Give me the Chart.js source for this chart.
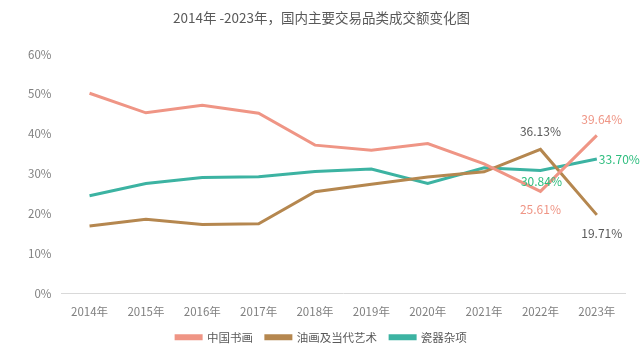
<!DOCTYPE html>
<html><head><meta charset="utf-8">
<script src="https://cdn.jsdelivr.net/npm/chart.js@4/dist/chart.umd.min.js"></script>
<style>html,body{margin:0;padding:0;background:#fff;}#wrap{width:640px;height:355px;}</style>
</head><body><div id="wrap"><canvas id="c" width="640" height="355"></canvas></div>
<script>
const categories = ['2014年','2015年','2016年','2017年','2018年','2019年','2020年','2021年','2022年','2023年'];
const chinesePainting = [50.2, 45.3, 47.2, 45.2, 37.2, 35.9, 37.6, 32.5, 25.61, 39.64];
const oilContemporary = [16.9, 18.6, 17.3, 17.5, 25.5, 27.4, 29.2, 30.5, 36.13, 19.71];
const ceramicsMisc = [24.5, 27.6, 29.1, 29.3, 30.6, 31.2, 27.6, 31.5, 30.84, 33.70];
const seriesNames = ['中国书画','油画及当代艺术','瓷器杂项'];
const yTicks = [0,10,20,30,40,50,60];

const FONT = '"Noto Sans CJK SC", "Noto Sans", sans-serif';
const colors = ['#ef9585', '#b5874f', '#3cb3a2'];
const labelColors = ['#ef9585', '#595959', '#2dbd7e'];
const labelPlace = [
  [[0, 18, 'center'], [5, -16, 'center']],
  [[0, -18, 'center'], [5, 19, 'center']],
  [[1, 11, 'center'], [2, 0, 'left']]
];

const labelPlugin = {
  id: 'endLabels',
  afterDatasetsDraw(chart) {
    const ctx = chart.ctx;
    ctx.save();
    ctx.font = '12px ' + FONT;
    ctx.textBaseline = 'middle';
    chart.data.datasets.forEach((ds, i) => {
      const meta = chart.getDatasetMeta(i);
      const n = ds.data.length;
      [n - 2, n - 1].forEach((idx, k) => {
        const pt = meta.data[idx];
        const p = labelPlace[i][k];
        ctx.fillStyle = labelColors[i];
        ctx.textAlign = p[2];
        ctx.fillText(ds.data[idx].toFixed(2) + '%', pt.x + p[0], pt.y + p[1]);
      });
    });
    ctx.restore();
  }
};

new Chart(document.getElementById('c'), {
  type: 'line',
  data: {
    labels: categories,
    datasets: [chinesePainting, oilContemporary, ceramicsMisc].map((d, i) => ({
      label: seriesNames[i],
      data: d,
      borderColor: colors[i],
      backgroundColor: colors[i],
      borderWidth: 3,
      pointRadius: 0,
      tension: 0,
      fill: false
    }))
  },
  options: {
    responsive: false,
    animation: false,
    devicePixelRatio: 1,
    layout: { padding: { left: 18, right: 15, top: 0, bottom: 2 } },
    plugins: {
      title: {
        display: true,
        text: '2014年 -2023年，国内主要交易品类成交额变化图',
        color: '#595959',
        font: { family: FONT, size: 13.5, weight: 'normal' },
        padding: { top: 10, bottom: 28 }
      },
      legend: {
        position: 'bottom',
        labels: {
          color: '#595959',
          font: { family: FONT, size: 11.5 },
          boxWidth: 25,
          boxHeight: 3,
          padding: 13
        }
      },
      tooltip: { enabled: false }
    },
    scales: {
      x: {
        offset: true,
        grid: { display: false, drawTicks: false },
        border: { display: true, color: '#d9d9d9' },
        ticks: { color: '#7f7f7f', font: { family: FONT, size: 11.5 }, padding: 11, maxRotation: 0 },
        afterFit(axis) { axis.height = 25; }
      },
      y: {
        min: 0, max: 60,
        afterBuildTicks(axis) { axis.ticks = yTicks.map(v => ({ value: v })); },
        grid: { display: false, drawTicks: false },
        border: { display: false },
        ticks: { color: '#7f7f7f', font: { family: FONT, size: 11.5 }, padding: 10, callback: v => v + '%' }
      }
    }
  },
  plugins: [labelPlugin]
});
</script></body></html>
